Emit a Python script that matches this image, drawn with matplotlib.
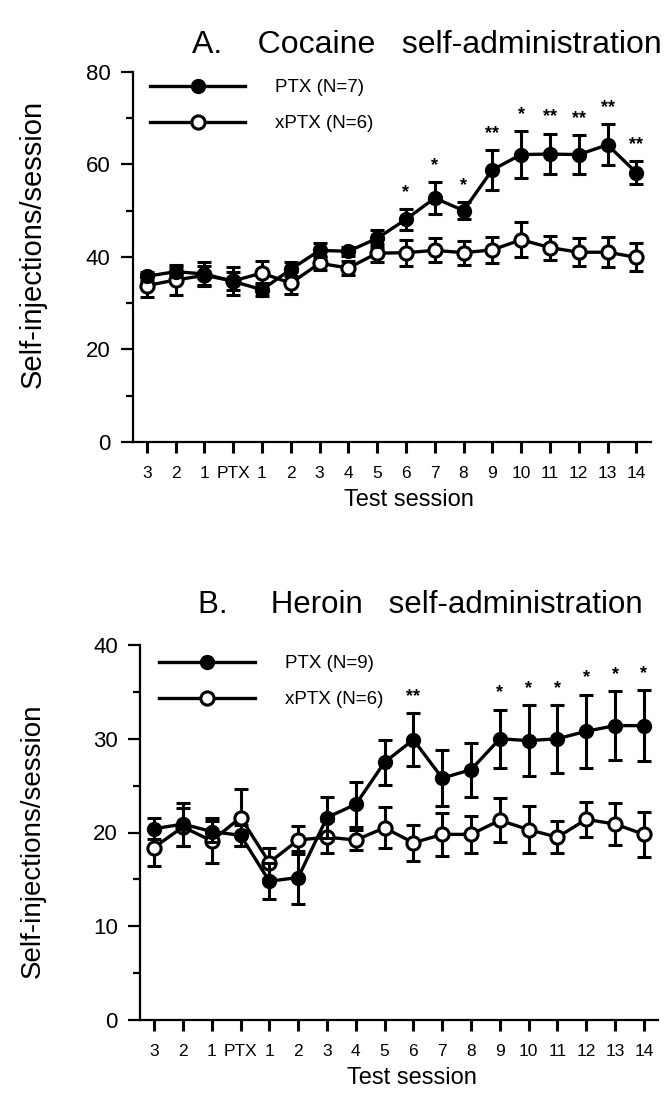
import numpy as np
import matplotlib
matplotlib.use("Agg")
import matplotlib.pyplot as plt
from matplotlib.ticker import MultipleLocator

plt.rcParams["font.family"] = ["Liberation Sans", "DejaVu Sans"]

sessions = ["3", "2", "1", "PTX", "1", "2", "3", "4", "5", "6", "7", "8",
            "9", "10", "11", "12", "13", "14"]

# A. cocaine
coc_ptx_mean = [35.8, 36.8, 36.3, 34.7, 32.9, 37.3, 41.4, 41.2, 44.0,
                48.1, 52.7, 50.0, 58.8, 62.1, 62.2, 62.1, 64.2, 58.2]
coc_ptx_sem = [1.0, 1.0, 2.5, 3.0, 1.4, 1.5, 1.5, 1.0, 1.8,
               2.2, 3.4, 1.8, 4.3, 5.1, 4.4, 4.2, 4.4, 2.4]
coc_xptx_mean = [33.8, 35.0, 36.0, 34.8, 36.5, 34.3, 38.6, 37.6, 40.8,
                 40.9, 41.4, 40.9, 41.5, 43.7, 42.0, 41.0, 41.0, 39.9]
coc_xptx_sem = [2.5, 3.2, 2.0, 2.0, 2.6, 2.4, 1.5, 1.5, 2.0,
                2.8, 2.6, 2.6, 2.8, 3.8, 2.6, 3.0, 3.3, 3.0]
coc_stars = ["", "", "", "", "", "", "", "", "",
             "*", "*", "*", "**", "*", "**", "**", "**", "**"]

# B. heroin
her_ptx_mean = [20.4, 20.9, 20.1, 19.7, 14.8, 15.2, 21.6, 23.0, 27.5,
                29.9, 25.8, 26.7, 30.0, 29.8, 30.0, 30.8, 31.4, 31.4]
her_ptx_sem = [1.1, 2.3, 1.1, 1.1, 1.9, 2.8, 2.2, 2.4, 2.4,
               2.8, 3.0, 2.9, 3.1, 3.8, 3.6, 3.9, 3.65, 3.8]
her_xptx_mean = [18.4, 20.6, 19.1, 21.6, 16.8, 19.2, 19.5, 19.2, 20.5,
                 18.9, 19.8, 19.8, 21.3, 20.3, 19.5, 21.4, 20.9, 19.8]
her_xptx_sem = [2.0, 2.0, 2.4, 3.0, 1.6, 1.5, 1.7, 1.1, 2.2,
                1.9, 2.3, 2.0, 2.35, 2.5, 1.7, 1.9, 2.2, 2.4]
her_stars = ["", "", "", "", "", "", "", "", "",
             "**", "", "", "*", "*", "*", "*", "*", "*"]

W, H = 670, 1099
fig = plt.figure(figsize=(W / 100, H / 100), dpi=100)


def px_axes(left, right, top, bottom):
    return fig.add_axes([left / W, 1 - bottom / H, (right - left) / W, (bottom - top) / H])


def panel(ax, ptx_m, ptx_s, xptx_m, xptx_s, stars, labels, ymax, major, leg_xy):
    x = np.arange(len(sessions))
    ax.errorbar(x, xptx_m, yerr=xptx_s, fmt="none", ecolor="black",
                elinewidth=2.2, capsize=5, capthick=2.2, zorder=2)
    l2, = ax.plot(x, xptx_m, "-o", color="black", lw=2.4, ms=9.5, mfc="white",
                  mec="black", mew=2.2, label=labels[1], zorder=3)
    ax.errorbar(x, ptx_m, yerr=ptx_s, fmt="none", ecolor="black",
                elinewidth=2.2, capsize=5, capthick=2.2, zorder=4)
    l1, = ax.plot(x, ptx_m, "-o", color="black", lw=2.4, ms=10, mfc="black",
                  mec="black", label=labels[0], zorder=5)
    for xi, m, s, st in zip(x, ptx_m, ptx_s, stars):
        if st:
            ax.annotate(st, (xi, m + s), xytext=(0, 12), textcoords="offset points",
                        ha="center", va="center", fontsize=13, fontweight="bold")

    ax.set_xlim(-0.49, 17.5)
    ax.set_ylim(0, ymax)
    ax.set_xticks(x)
    ax.set_xticklabels(sessions, fontsize=12.5)
    ax.yaxis.set_major_locator(MultipleLocator(major))
    ax.yaxis.set_minor_locator(MultipleLocator(major / 2))
    ax.tick_params(axis="y", which="major", length=9, width=1.6, labelsize=16, pad=7)
    ax.tick_params(axis="y", which="minor", length=5, width=1.6)
    ax.tick_params(axis="x", length=8, width=2.2, pad=9)
    for side in ["top", "right"]:
        ax.spines[side].set_visible(False)
    for side in ["left", "bottom"]:
        ax.spines[side].set_linewidth(1.6)

    ax.legend(handles=[l1, l2], loc="upper left", bbox_to_anchor=leg_xy,
              frameon=False, fontsize=13.5, handlelength=5.1, handletextpad=1.6,
              labelspacing=1.0, borderpad=0, borderaxespad=0, numpoints=1)


ax_a = px_axes(132.7, 650.7, 71.7, 442)
panel(ax_a, coc_ptx_mean, coc_ptx_sem, coc_xptx_mean, coc_xptx_sem, coc_stars,
      ["PTX (N=7)", "xPTX (N=6)"], 80, 20, (0.033, 0.98))

ax_b = px_axes(140, 658.3, 645, 1020)
panel(ax_b, her_ptx_mean, her_ptx_sem, her_xptx_mean, her_xptx_sem, her_stars,
      ["PTX (N=9)", "xPTX (N=6)"], 40, 10, (0.037, 0.973))

# axis labels and titles
fig.text(32.5 / W, 1 - 244 / H, "Self-injections/session", rotation=90,
         ha="center", va="center", fontsize=21)
fig.text(33 / W, 1 - 841 / H, "Self-injections/session", rotation=90,
         ha="center", va="center", fontsize=20)
fig.text(409 / W, 1 - 500 / H, "Test session", ha="center", va="center", fontsize=17)
fig.text(411.7 / W, 1 - 1078 / H, "Test session", ha="center", va="center", fontsize=17)

fig.text(427 / W, 1 - 53 / H, "A.    Cocaine   self-administration",
         ha="center", va="baseline", fontsize=23)
fig.text(420 / W, 1 - 612.7 / H, "B.     Heroin   self-administration",
         ha="center", va="baseline", fontsize=22.5)

fig.savefig("out.png", dpi=100)
